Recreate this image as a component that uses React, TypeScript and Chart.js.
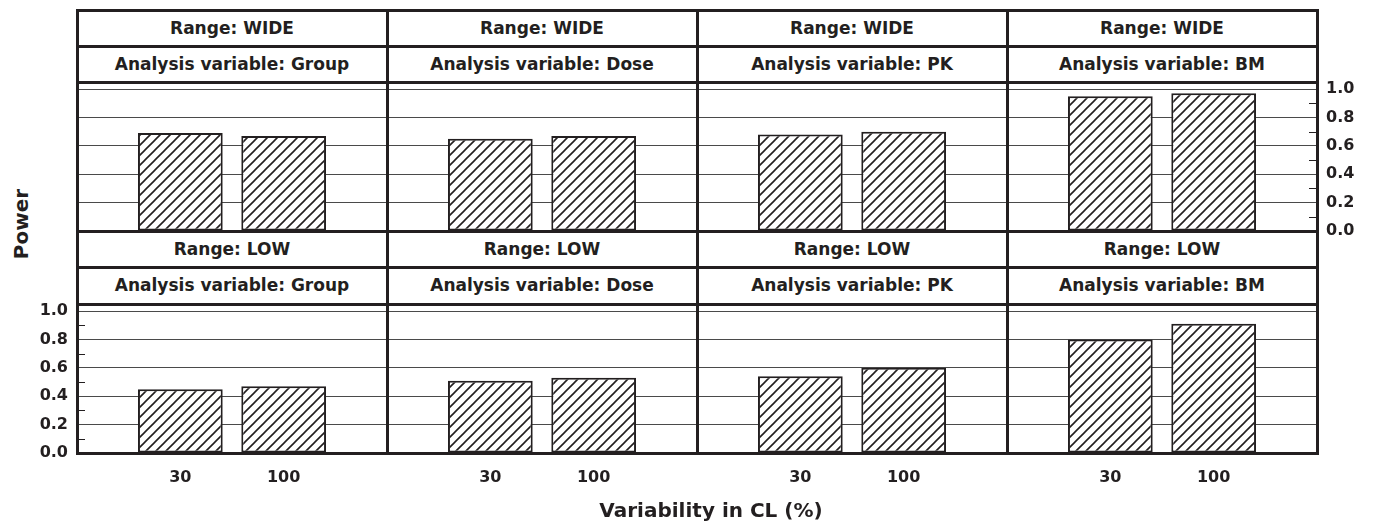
import React, { useEffect, useRef } from 'react';
import { Chart, registerables } from 'chart.js';

Chart.register(...registerables);

// ---------- data ----------
const variabilityCL = ['30', '100'];
const analysisVariables = ['Group', 'Dose', 'PK', 'BM'];
const rangeNames = ['WIDE', 'LOW'];

const powerWideGroup = [0.69, 0.67];
const powerWideDose = [0.65, 0.67];
const powerWidePK = [0.68, 0.70];
const powerWideBM = [0.95, 0.97];

const powerLowGroup = [0.45, 0.47];
const powerLowDose = [0.51, 0.53];
const powerLowPK = [0.54, 0.60];
const powerLowBM = [0.80, 0.91];

const powerTicks = [0, 0.2, 0.4, 0.6, 0.8, 1.0];
const powerMinorTicks = [0.1, 0.3, 0.5, 0.7, 0.9];
const powerMax = 1.05;

const xTitle = 'Variability in CL (%)';
const yTitle = 'Power';

const seriesByRange = [
  [powerWideGroup, powerWideDose, powerWidePK, powerWideBM],
  [powerLowGroup, powerLowDose, powerLowPK, powerLowBM],
];

// ---------- layout / style ----------
const INK = '#231f20';
const GRID = '#4a4a4a';
const FONT_FAMILY = '"DejaVu Sans", Lato, sans-serif';
const FONT_SIZE = 17;
const TICK_SIZE = 16;
const TITLE_SIZE = 20;
const COL_X = [77, 387, 697, 1007, 1317];
const ROW_LINES = [10, 46, 82, 231, 267, 304, 453];
const PAD = 12;
const AXW = 60;
const XH = 40;
const LINE = 3;

function makeHatch(): CanvasPattern | string {
  const s = 10;
  const c = document.createElement('canvas');
  c.width = s;
  c.height = s;
  const g = c.getContext('2d');
  if (!g) return '#fff';
  g.fillStyle = '#fff';
  g.fillRect(0, 0, s, s);
  g.strokeStyle = INK;
  g.lineWidth = 1.6;
  g.beginPath();
  g.moveTo(-1, s + 1);
  g.lineTo(s + 1, -1);
  g.moveTo(-2, 2);
  g.lineTo(2, -2);
  g.moveTo(s - 2, s + 2);
  g.lineTo(s + 2, s - 2);
  g.stroke();
  return g.createPattern(c, 'repeat') || '#fff';
}

const minorTickPlugin = {
  id: 'minorTicks',
  afterDatasetsDraw(chart: any, _args: any, opts: any) {
    if (!opts || !opts.side) return;
    const y = chart.scales.y;
    const { left, right } = chart.chartArea;
    const ctx = chart.ctx;
    const len = 8;
    ctx.save();
    ctx.strokeStyle = INK;
    ctx.lineWidth = 1;
    ctx.beginPath();
    powerMinorTicks.forEach((v) => {
      const py = Math.round(y.getPixelForValue(v)) + 0.5;
      if (opts.side === 'left') {
        ctx.moveTo(left, py);
        ctx.lineTo(left + len, py);
      } else {
        ctx.moveTo(right - len, py);
        ctx.lineTo(right, py);
      }
    });
    ctx.stroke();
    ctx.restore();
  },
};

type PanelProps = {
  values: number[];
  plotLeft: number;
  plotTop: number;
  plotWidth: number;
  plotHeight: number;
  axisSide: 'left' | 'right' | null;
  axisBottom: boolean;
};

function Panel({ values, plotLeft, plotTop, plotWidth, plotHeight, axisSide, axisBottom }: PanelProps) {
  const ref = useRef<HTMLCanvasElement>(null);
  const leftExtra = PAD + (axisSide === 'left' ? AXW : 0);
  const rightExtra = PAD + (axisSide === 'right' ? AXW : 0);
  const bottomExtra = PAD + (axisBottom ? XH : 0);
  const width = plotWidth + leftExtra + rightExtra;
  const height = plotHeight + PAD + bottomExtra;

  useEffect(() => {
    const canvas = ref.current;
    if (!canvas) return;
    const font = { family: FONT_FAMILY, size: TICK_SIZE, weight: 'bold' as const };
    const chart = new Chart(canvas, {
      type: 'bar',
      data: {
        labels: ['', ...variabilityCL, ''],
        datasets: [
          {
            data: [null, ...values, null],
            backgroundColor: makeHatch() as any,
            borderColor: INK,
            borderWidth: 2,
            borderSkipped: false,
            barPercentage: 0.82,
            categoryPercentage: 1,
          },
        ],
      },
      options: {
        responsive: false,
        animation: false,
        events: [],
        layout: { padding: PAD },
        plugins: {
          legend: { display: false },
          tooltip: { enabled: false },
          title: { display: false },
          // @ts-ignore
          minorTicks: { side: axisSide },
        },
        scales: {
          x: {
            type: 'category',
            offset: false,
            grid: { display: false, drawTicks: false },
            border: { display: false },
            ticks: {
              display: axisBottom,
              autoSkip: false,
              maxRotation: 0,
              minRotation: 0,
              padding: 15,
              color: INK,
              font,
            },
            afterFit: (s: any) => {
              s.height = axisBottom ? XH : 0;
              s.paddingLeft = 0;
              s.paddingRight = 0;
            },
          },
          y: {
            type: 'linear',
            position: axisSide === 'right' ? 'right' : 'left',
            min: 0,
            max: powerMax,
            afterBuildTicks: (s: any) => {
              s.ticks = powerTicks.map((v) => ({ value: v }));
            },
            grid: { color: GRID, lineWidth: 1, drawTicks: false },
            border: { display: false },
            ticks: {
              display: axisSide !== null,
              padding: 9,
              color: INK,
              font,
              callback: (v: any) => Number(v).toFixed(1),
            },
            afterFit: (s: any) => {
              s.width = axisSide ? AXW : 0;
              s.paddingTop = 0;
              s.paddingBottom = 0;
            },
          },
        },
      } as any,
      plugins: [minorTickPlugin],
    });
    return () => chart.destroy();
  }, []);

  return (
    <canvas
      ref={ref}
      width={width}
      height={height}
      style={{
        position: 'absolute',
        left: plotLeft - leftExtra,
        top: plotTop - PAD,
        width,
        height,
      }}
    />
  );
}

const textStyle: React.CSSProperties = {
  fontFamily: FONT_FAMILY,
  fontWeight: 700,
  fontSize: FONT_SIZE,
  color: INK,
  whiteSpace: 'nowrap',
  lineHeight: 1,
};

export default function App() {
  const panels: React.ReactNode[] = [];
  const headers: React.ReactNode[] = [];
  rangeNames.forEach((range, r) => {
    const h1Top = ROW_LINES[3 * r];
    const h2Top = ROW_LINES[3 * r + 1];
    const plotTop = ROW_LINES[3 * r + 2];
    const plotBottom = ROW_LINES[3 * r + 3];
    analysisVariables.forEach((av, c) => {
      const left = COL_X[c];
      const right = COL_X[c + 1];
      const w = right - left;
      const axisSide = r === 0 && c === analysisVariables.length - 1 ? 'right' : r === 1 && c === 0 ? 'left' : null;
      panels.push(
        <Panel
          key={`p-${r}-${c}`}
          values={seriesByRange[r][c]}
          plotLeft={left}
          plotTop={plotTop}
          plotWidth={w}
          plotHeight={plotBottom - plotTop}
          axisSide={axisSide}
          axisBottom={r === rangeNames.length - 1}
        />
      );
      headers.push(
        <div
          key={`h1-${r}-${c}`}
          style={{
            ...textStyle,
            position: 'absolute',
            left,
            top: h1Top,
            width: w,
            height: h2Top - h1Top,
            display: 'flex',
            alignItems: 'center',
            justifyContent: 'center',
            background: '#fff',
          }}
        >
          {`Range: ${range}`}
        </div>
      );
      headers.push(
        <div
          key={`h2-${r}-${c}`}
          style={{
            ...textStyle,
            position: 'absolute',
            left,
            top: h2Top,
            width: w,
            height: plotTop - h2Top,
            display: 'flex',
            alignItems: 'center',
            justifyContent: 'center',
            background: '#fff',
          }}
        >
          {`Analysis variable: ${av}`}
        </div>
      );
    });
  });

  const lines: React.ReactNode[] = [];
  ROW_LINES.forEach((y, i) => {
    lines.push(
      <div
        key={`hl-${i}`}
        style={{
          position: 'absolute',
          left: COL_X[0] - 1,
          top: y - 1,
          width: COL_X[COL_X.length - 1] - COL_X[0] + LINE,
          height: LINE,
          background: INK,
        }}
      />
    );
  });
  COL_X.forEach((x, i) => {
    lines.push(
      <div
        key={`vl-${i}`}
        style={{
          position: 'absolute',
          left: x - 1,
          top: ROW_LINES[0] - 1,
          width: LINE,
          height: ROW_LINES[ROW_LINES.length - 1] - ROW_LINES[0] + LINE,
          background: INK,
        }}
      />
    );
  });

  return (
    <div
      style={{
        position: 'fixed',
        left: 0,
        top: 0,
        width: 1373,
        height: 526,
        background: '#fff',
        overflow: 'hidden',
      }}
    >
      {panels}
      {headers}
      {lines}
      <div
        style={{
          ...textStyle,
          fontSize: TITLE_SIZE,
          position: 'absolute',
          left: 21,
          top: 224,
          transform: 'translate(-50%, -50%) rotate(-90deg)',
        }}
      >
        {yTitle}
      </div>
      <div
        style={{
          ...textStyle,
          fontSize: TITLE_SIZE,
          position: 'absolute',
          left: 711,
          top: 510,
          transform: 'translate(-50%, -50%)',
        }}
      >
        {xTitle}
      </div>
    </div>
  );
}
